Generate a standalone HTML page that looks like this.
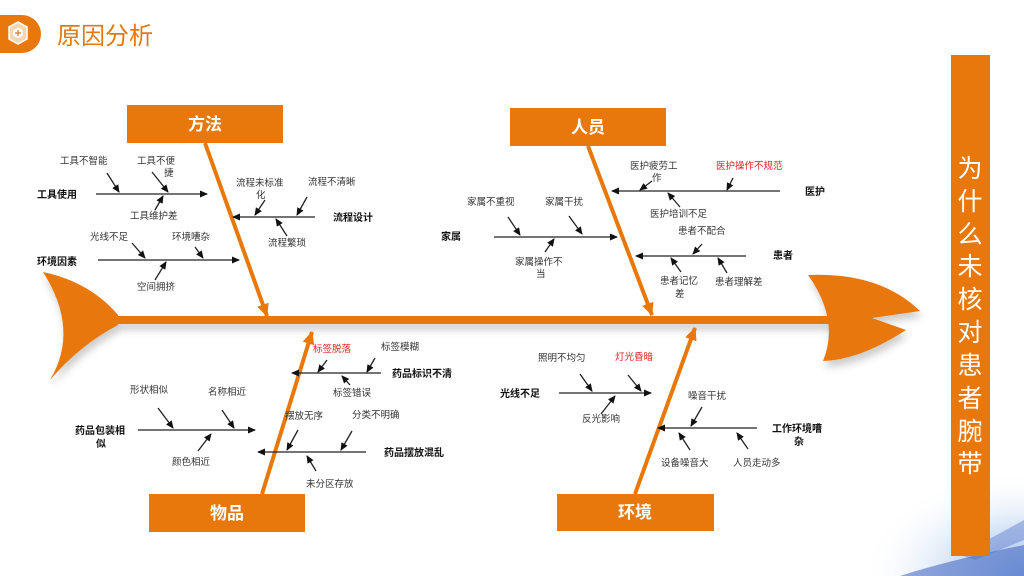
<!DOCTYPE html>
<html><head><meta charset="utf-8"><style>
html,body{margin:0;padding:0;}
body{width:1024px;height:576px;overflow:hidden;background:#fff;position:relative;font-family:"Liberation Sans","Noto Sans CJK SC",sans-serif;}
svg text{font-family:"Liberation Sans","Noto Sans CJK SC",sans-serif;}
</style></head><body>
<svg width="1024" height="576" viewBox="0 0 1024 576" style="position:absolute;left:0;top:0">
<defs>
<marker id="a" markerWidth="8" markerHeight="8" refX="7" refY="4" orient="auto" markerUnits="userSpaceOnUse"><path d="M0,0.5 L8,4 L0,7.5 Z" fill="#111"/></marker>
<marker id="o" markerWidth="14" markerHeight="14" refX="12" refY="6" orient="auto" markerUnits="userSpaceOnUse"><path d="M0,0 L13,6 L0,12 Z" fill="#E8780C"/></marker>
<radialGradient id="bg" cx="1" cy="1" r="1"><stop offset="0" stop-color="#9fc0ea"/><stop offset="0.5" stop-color="#dbe8f7"/><stop offset="1" stop-color="#fff" stop-opacity="0"/></radialGradient>
<filter id="sh"><feDropShadow dx="2" dy="6" stdDeviation="4" flood-color="#000" flood-opacity="0.2"/></filter>
</defs>
<!-- bottom right decoration -->
<rect x="860" y="470" width="164" height="106" fill="url(#bg)"/>
<path d="M900,576 Q950,560 1024,545 L1024,576 Z" fill="#3d5fbf" opacity="0.55"/>
<path d="M960,555 L1024,520 L1024,540 L975,560 Z" fill="#4a6cc8" opacity="0.4"/>
<!-- header -->
<path d="M0,15 L22,15 A19,19 0 0 1 22,53 L0,53 Z" fill="#E8780C"/>
<polygon points="18,22 27,27 27,39 18,44 9,39 9,27" fill="#f7d7b0" stroke="#fff" stroke-width="1.5"/>
<circle cx="18" cy="33" r="5" fill="#fff"/>
<path d="M18,30 V36 M15,33 H21" stroke="#E8780C" stroke-width="1.2"/>
<text x="57" y="44" font-size="24" fill="#E07A10">原因分析</text>
<!-- right panel -->
<rect x="951" y="55" width="39" height="501" fill="#E8780C"/>
<g font-size="25" fill="#fff" text-anchor="middle">
<text x="970" y="177">为</text><text x="970" y="210">什</text><text x="970" y="243">么</text><text x="970" y="275">未</text><text x="970" y="308">核</text><text x="970" y="341">对</text><text x="970" y="374">患</text><text x="970" y="407">者</text><text x="970" y="440">腕</text><text x="970" y="472">带</text>
</g>
<!-- fish -->
<g filter="url(#sh)" fill="#E8780C">
<path d="M43,272 Q90,282 118,315 L118,325 Q80,345 50,380 Q80,330 43,272 Z"/>
<rect x="110" y="316" width="720" height="8"/>
<path d="M808,275 Q880,272 920,311 L872,318 L906,330 Q860,360 823,361 Q840,320 808,275 Z"/>
</g>
<!-- main bones -->
<g stroke="#E8780C" stroke-width="4" marker-end="url(#o)">
<line x1="205" y1="143" x2="267" y2="316"/>
<line x1="588" y1="146" x2="652" y2="315"/>
<line x1="262" y1="494" x2="312" y2="332"/>
<line x1="635" y1="494" x2="695" y2="328"/>
</g>
<!-- boxes -->
<g fill="#E8780C">
<rect x="127" y="105" width="156" height="38"/><rect x="510" y="108" width="156" height="38"/>
<rect x="149" y="494" width="156" height="38"/><rect x="557" y="494" width="157" height="37"/>
</g>
<g fill="#fff" font-size="17" font-weight="bold" text-anchor="middle">
<text x="205" y="130">方法</text><text x="588" y="133">人员</text><text x="227" y="519">物品</text><text x="635" y="518">环境</text>
</g>
<!-- sub bones -->
<g stroke="#222" stroke-width="1.3" marker-end="url(#a)" fill="none">
<line x1="96" y1="194" x2="207" y2="194"/>
<line x1="107" y1="173" x2="119" y2="192"/><line x1="152" y1="172" x2="168" y2="192"/><line x1="155" y1="210" x2="163" y2="196"/>
<line x1="315" y1="217" x2="233" y2="217"/>
<line x1="265" y1="200" x2="255" y2="215"/><line x1="307" y1="197" x2="297" y2="215"/><line x1="287" y1="236" x2="276" y2="219"/>
<line x1="98" y1="260" x2="239" y2="260"/>
<line x1="132" y1="243" x2="145" y2="258"/><line x1="195" y1="247" x2="203" y2="258"/><line x1="155" y1="280" x2="166" y2="262"/>
<line x1="780" y1="191" x2="612" y2="191"/>
<line x1="652" y1="181" x2="640" y2="190"/><line x1="733" y1="178" x2="727" y2="190"/><line x1="680" y1="207" x2="668" y2="193"/>
<line x1="494" y1="237" x2="617" y2="237"/>
<line x1="508" y1="217" x2="520" y2="235"/><line x1="569" y1="216" x2="582" y2="234"/><line x1="545" y1="252" x2="554" y2="239"/>
<line x1="746" y1="256" x2="636" y2="256"/>
<line x1="702" y1="244" x2="693" y2="254"/><line x1="681" y1="272" x2="671" y2="258"/><line x1="727" y1="273" x2="718" y2="258"/>
<line x1="381" y1="373" x2="292" y2="373"/>
<line x1="327" y1="360" x2="318" y2="372"/><line x1="375" y1="358" x2="367" y2="372"/><line x1="350" y1="385" x2="342" y2="376"/>
<line x1="138" y1="430" x2="255" y2="430"/>
<line x1="158" y1="408" x2="173" y2="428"/><line x1="222" y1="410" x2="234" y2="428"/><line x1="198" y1="451" x2="211" y2="434"/>
<line x1="366" y1="452" x2="258" y2="452"/>
<line x1="298" y1="430" x2="287" y2="450"/><line x1="352" y1="431" x2="341" y2="450"/><line x1="316" y1="471" x2="307" y2="456"/>
<line x1="559" y1="393" x2="651" y2="393"/>
<line x1="580" y1="374" x2="592" y2="391"/><line x1="628" y1="375" x2="641" y2="391"/><line x1="601" y1="414" x2="615" y2="396"/>
<line x1="757" y1="428" x2="658" y2="428"/>
<line x1="702" y1="407" x2="691" y2="426"/><line x1="690" y1="450" x2="679" y2="433"/><line x1="748" y1="449" x2="737" y2="433"/>
</g>
<!-- labels -->
<g font-size="9.5" fill="#333">
<text x="60" y="164">工具不智能</text><text x="137" y="164">工具不便</text><text x="164" y="176">捷</text><text x="130" y="219">工具维护差</text>
<text x="236" y="186">流程未标准</text><text x="256" y="198">化</text><text x="308" y="185">流程不清晰</text><text x="268" y="246">流程繁琐</text>
<text x="90" y="240">光线不足</text><text x="172" y="240">环境嘈杂</text><text x="137" y="290">空间拥挤</text>
<text x="630" y="169">医护疲劳工</text><text x="652" y="181">作</text><text x="716" y="169" fill="#e02020">医护操作不规范</text><text x="650" y="217">医护培训不足</text>
<text x="467" y="205">家属不重视</text><text x="545" y="205">家属干扰</text><text x="515" y="265">家属操作不</text><text x="536" y="277">当</text>
<text x="678" y="234">患者不配合</text><text x="660" y="284">患者记忆</text><text x="675" y="297">差</text><text x="715" y="285">患者理解差</text>
<text x="313" y="352" fill="#e02020">标签脱落</text><text x="381" y="350">标签模糊</text><text x="333" y="396">标签错误</text>
<text x="130" y="393">形状相似</text><text x="208" y="395">名称相近</text><text x="172" y="465">颜色相近</text>
<text x="285" y="419">摆放无序</text><text x="352" y="418">分类不明确</text><text x="306" y="487">未分区存放</text>
<text x="538" y="361">照明不均匀</text><text x="615" y="360" fill="#e02020">灯光昏暗</text><text x="582" y="422">反光影响</text>
<text x="688" y="399">噪音干扰</text><text x="661" y="466">设备噪音大</text><text x="733" y="466">人员走动多</text>
</g>
<g font-size="10" font-weight="bold" fill="#111">
<text x="37" y="198">工具使用</text><text x="333" y="221">流程设计</text><text x="37" y="265">环境因素</text>
<text x="805" y="195">医护</text><text x="441" y="240">家属</text><text x="773" y="259">患者</text>
<text x="392" y="377">药品标识不清</text><text x="75" y="434">药品包装相</text><text x="96" y="447">似</text><text x="384" y="456">药品摆放混乱</text>
<text x="500" y="397">光线不足</text><text x="772" y="432">工作环境嘈</text><text x="794" y="445">杂</text>
</g>
</svg>
</body></html>
